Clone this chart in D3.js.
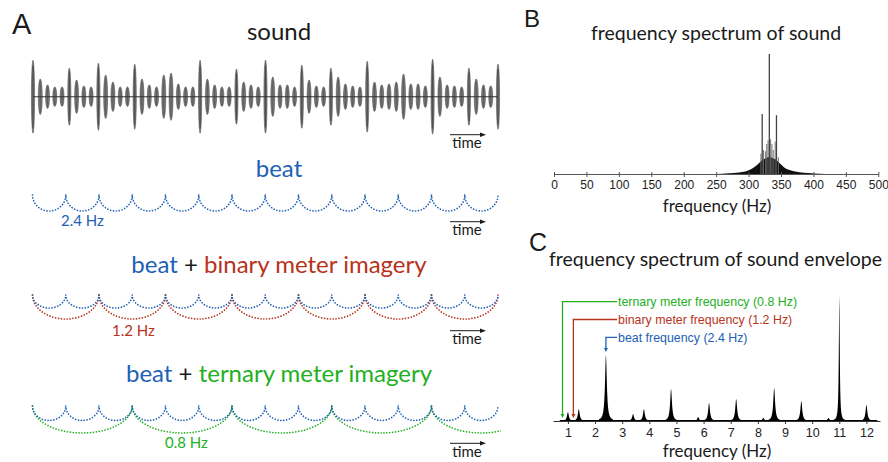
<!DOCTYPE html>
<html><head><meta charset="utf-8">
<script src="https://cdn.jsdelivr.net/npm/d3@7"></script>
<style>body{margin:0;background:#fff;} svg{display:block;}</style>
</head><body><svg id="c" width="888" height="462"></svg>
<script>
// ---------- DATA ----------
// Panel A: sound bursts (11 Hz tone bursts), amplitude
const burstAmp = [37,18,12,10,10,29,17,11,10,34,22,15,10,10,33,18,12,10,22,24,13,10,10,37,18,12,10,10,28,15,12,10,37,20,12,12,10,32,17,11,10,29,20,13,11,10,36,15,12,13,15,23,13,13,11,38,20,12,11,10,29,18,12,11,33];
const beatIndex = [0,1,2,3,4,5,6,7,8,9,10,11,12,13,14];
const binaryCusps = [0,2,4,6,8,10,12,14];
const ternaryCusps = [0,3,6,9,12,15];
const rowTitles = ["sound","beat"];
const freqLabels = ["2.4 Hz","1.2 Hz","0.8 Hz"];
// Panel B: frequency spectrum of sound
const specTicks = [0,50,100,150,200,250,300,350,400,450,500];
const specMassHz  = [250,270,285,295,302,308,313,318,322,326,330,334,338,342,346,350,355,362,372,385,400,418];
const specMassAmp = [0,0.006,0.012,0.02,0.035,0.055,0.075,0.1,0.12,0.13,0.14,0.14,0.13,0.12,0.1,0.08,0.055,0.035,0.02,0.01,0.005,0];
const specLineHz  = [319,321,323,326,328,330,332,334,336,338,341,343,346];
const specLineAmp = [0.17,0.5,0.2,0.19,0.25,0.28,1.0,0.29,0.25,0.2,0.27,0.49,0.14];
// Panel C: frequency spectrum of sound envelope
const envTicks = [1,2,3,4,5,6,7,8,9,10,11,12];
const envHz  = [1.0,1.4,2.4,3.4,3.8,4.8,5.8,6.2,7.2,8.2,8.6,9.6,10.6,11.0,12.0];
const envAmp = [0.071,0.095,0.524,0.056,0.095,0.254,0.032,0.143,0.175,0.024,0.262,0.159,0.024,1.0,0.127];
const annotLabels = ["ternary meter frequency (0.8 Hz)","binary meter frequency (1.2 Hz)","beat frequency (2.4 Hz)"];
const annotHz = [0.8,1.2,2.4];

// ---------- STYLE ----------
const BLUE="#2161b5", RED="#b83220", GREEN="#22b022", INK="#1a1a1a";
const CAL="Lato, 'Open Sans', sans-serif", ARI="'Liberation Sans', Arial, sans-serif";
const svg = d3.select("#c");

// panel letters
[["A",12,34,29],["B",524,27,24],["C",529,251,25]].forEach(([t,x,y,s])=>{
  svg.append("text").attr("x",x).attr("y",y).attr("font-family",ARI).attr("font-size",s).attr("fill",INK).text(t);
});

// ---------- PANEL A ----------
const xA = d3.scaleLinear().domain([0,14]).range([32.5,498]);
const xBurst = d3.scaleLinear().domain([0,burstAmp.length-1]).range([33,498]);
const yAmp = d3.scaleLinear().domain([0,38]).range([0,37.5]);
const waveY = 96.7;

svg.append("text").attr("x",279).attr("y",40).attr("text-anchor","middle")
  .attr("font-family",CAL).attr("font-size",24).attr("fill",INK).text(rowTitles[0]);

const wave = svg.append("g");
wave.selectAll("ellipse").data(burstAmp).join("ellipse")
  .attr("cx",(d,i)=>xBurst(i)).attr("cy",waveY)
  .attr("rx",d=>d>25?1.6:2.0).attr("ry",d=>yAmp(d))
  .attr("fill","#767676").attr("stroke","#444").attr("stroke-width",0.5);
burstAmp.forEach((d,i)=>{ wave.append("line").attr("x1",xBurst(i)).attr("x2",xBurst(i))
  .attr("y1",waveY-yAmp(d)*0.85).attr("y2",waveY+yAmp(d)*0.85).attr("stroke","#444").attr("stroke-width",d>25?0.9:0.5); });
wave.append("line").attr("x1",xBurst(0)).attr("x2",xBurst(burstAmp.length-1))
  .attr("y1",waveY).attr("y2",waveY).attr("stroke","#333").attr("stroke-width",1.1);

function timeArrow(y){
  const g = svg.append("g");
  g.append("line").attr("x1",450).attr("x2",482).attr("y1",y).attr("y2",y).attr("stroke",INK).attr("stroke-width",1);
  g.append("path").attr("d",`M486,${y} L480,${y-2.2} L480,${y+2.2} Z`).attr("fill",INK);
  g.append("text").attr("x",467).attr("y",y+13.5).attr("text-anchor","middle")
    .attr("font-family",CAL).attr("font-size",15).attr("fill",INK).text("time");
}
timeArrow(134.7);

svg.append("defs").append("clipPath").attr("id","clipA").append("rect")
  .attr("x",0).attr("y",0).attr("width",501).attr("height",462);

function arcs(cusps, cy, by, color){
  const g = svg.append("g").attr("clip-path","url(#clipA)");
  const pairs = cusps.slice(0,-1).map((c,i)=>[c,cusps[i+1]]);
  g.selectAll("path").data(pairs).join("path")
    .attr("d",([a,b])=>{ const x0=xA(a), x1=xA(b); const rx=(x1-x0)/2, ry=by-cy;
      return `M${x0},${cy} A${rx},${ry} 0 0 0 ${x1},${cy}`; })
    .attr("fill","none").attr("stroke",color).attr("stroke-width",1.7)
    .attr("stroke-linecap","round").attr("stroke-dasharray","0.01 2.9");
}

// row: beat
svg.append("text").attr("x",279).attr("y",177).attr("text-anchor","middle")
  .attr("font-family",CAL).attr("font-size",24).attr("fill",BLUE).text(rowTitles[1]);
arcs(beatIndex,195,211,BLUE);
svg.append("text").attr("x",61).attr("y",226).attr("font-family",CAL).attr("font-size",15).attr("fill",BLUE).text(freqLabels[0]);
timeArrow(221.7);

// row: beat + binary
{ const t = svg.append("text").attr("x",279).attr("y",273).attr("text-anchor","middle")
    .attr("font-family",CAL).attr("font-size",24);
  t.append("tspan").attr("fill",BLUE).text("beat");
  t.append("tspan").attr("fill",INK).text(" + ");
  t.append("tspan").attr("fill",RED).text("binary meter imagery"); }
arcs(binaryCusps,295,319,RED);
arcs(beatIndex,295,308,BLUE);
svg.append("text").attr("x",112).attr("y",336).attr("font-family",CAL).attr("font-size",15).attr("fill",RED).text(freqLabels[1]);
timeArrow(330.7);

// row: beat + ternary
{ const t = svg.append("text").attr("x",279).attr("y",381.5).attr("text-anchor","middle")
    .attr("font-family",CAL).attr("font-size",24);
  t.append("tspan").attr("fill",BLUE).text("beat");
  t.append("tspan").attr("fill",INK).text(" + ");
  t.append("tspan").attr("fill",GREEN).text("ternary meter imagery"); }
arcs(ternaryCusps,406,433,GREEN);
arcs(beatIndex,406,420.5,BLUE);
svg.append("text").attr("x",165).attr("y",448).attr("font-family",CAL).attr("font-size",15).attr("fill",GREEN).text(freqLabels[2]);
timeArrow(443.3);

// ---------- PANEL B ----------
const xB = d3.scaleLinear().domain([0,500]).range([554,878.3]);
const yB = d3.scaleLinear().domain([0,1]).range([174,54]);
svg.append("text").attr("x",716).attr("y",39.5).attr("text-anchor","middle")
  .attr("font-family",CAL).attr("font-size",19.5).attr("fill",INK).text("frequency spectrum of sound");
svg.append("path").datum(specMassHz.map((h,i)=>[h,specMassAmp[i]]))
  .attr("d",d3.area().x(d=>xB(d[0])).y0(yB(0)).y1(d=>yB(d[1])).curve(d3.curveMonotoneX))
  .attr("fill","#111");
svg.append("g").selectAll("line").data(specLineHz).join("line")
  .attr("x1",d=>xB(d)).attr("x2",d=>xB(d)).attr("y1",yB(0)).attr("y2",(d,i)=>yB(specLineAmp[i]))
  .attr("stroke",(d,i)=>specLineAmp[i]>0.4?"#444":"#666").attr("stroke-width",(d,i)=>specLineAmp[i]>0.4?1.3:0.9);
const axB = svg.append("g").attr("transform",`translate(0,${yB(0)})`)
  .call(d3.axisBottom(xB).tickValues(specTicks).tickSize(3).tickSizeOuter(0).tickPadding(3));
axB.select(".domain").attr("stroke","#555");
axB.selectAll(".tick line").attr("stroke","#555").attr("y1",-2);
axB.selectAll(".tick text").attr("font-family",ARI).attr("font-size",12).attr("fill","#222");
svg.append("text").attr("x",717).attr("y",212).attr("text-anchor","middle")
  .attr("font-family",CAL).attr("font-size",17).attr("fill",INK).text("frequency (Hz)");

// ---------- PANEL C ----------
const xC = d3.scaleLinear().domain([0.45,12.5]).range([553,880]);
const yC = d3.scaleLinear().domain([0,1]).range([421,295]);
svg.append("text").attr("x",715.5).attr("y",266).attr("text-anchor","middle")
  .attr("font-family",CAL).attr("font-size",19.5).attr("fill",INK).text("frequency spectrum of sound envelope");
const offs = d3.range(-7,7.01,0.2);
const peakLine = d3.line();
svg.append("g").selectAll("path").data(envHz).join("path")
  .attr("d",(h,i)=>{ const cx=xC(h), a=envAmp[i], w=a>0.6?0.55:1.1;
    const pts = offs.map(dx=>[cx+dx, yC(a/(1+(dx/w)*(dx/w)))]);
    return peakLine([[cx-7,yC(0)],...pts,[cx+7,yC(0)]])+"Z"; })
  .attr("fill","#000");
svg.append("line").attr("x1",xC(0.7)).attr("x2",xC(12.4)).attr("y1",yC(0)-0.5).attr("y2",yC(0)-0.5)
  .attr("stroke","#000").attr("stroke-width",1);
const axC = svg.append("g").attr("transform",`translate(0,${yC(0)})`)
  .call(d3.axisBottom(xC).tickValues(envTicks).tickSize(3).tickSizeOuter(0).tickPadding(4));
axC.select(".domain").attr("stroke","#333");
axC.selectAll(".tick line").attr("stroke","#333");
axC.selectAll(".tick text").attr("font-family",ARI).attr("font-size",12.5).attr("fill","#222");
svg.append("text").attr("x",717).attr("y",457).attr("text-anchor","middle")
  .attr("font-family",CAL).attr("font-size",17).attr("fill",INK).text("frequency (Hz)");

// annotations
const annColors = [GREEN,RED,BLUE];
const labelX = 617;
annotHz.forEach((h,i)=>{
  const y = 301.7 + i*17.8;
  const x = xC(h);
  const yEnd = i<2 ? 418 : yC(envAmp[envHz.indexOf(2.4)])-3;
  const g = svg.append("g");
  g.append("path").attr("d",`M${labelX},${y} H${x} V${yEnd-3}`).attr("fill","none")
    .attr("stroke",annColors[i]).attr("stroke-width",1.3);
  g.append("path").attr("d",`M${x},${yEnd} L${x-2},${yEnd-4} L${x+2},${yEnd-4} Z`).attr("fill",annColors[i]);
  g.append("text").attr("x",labelX+1).attr("y",y+4.3).attr("font-family",ARI).attr("font-size",12.4)
    .attr("fill",annColors[i]).text(annotLabels[i]);
});
</script></body></html>
